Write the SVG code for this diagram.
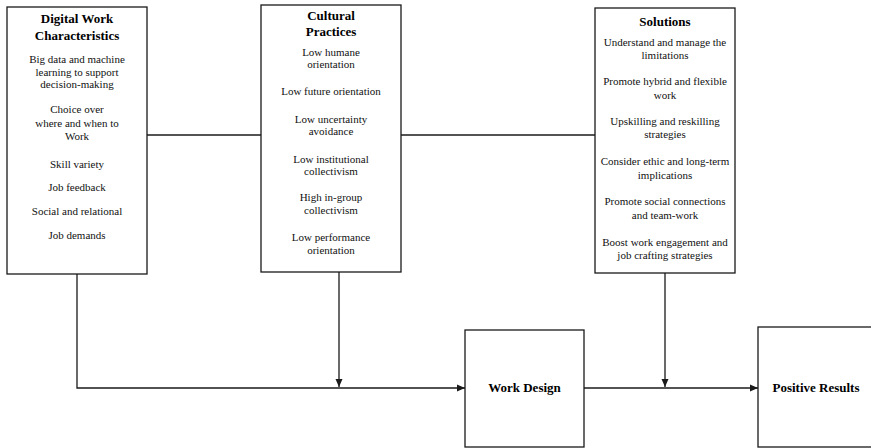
<svg xmlns="http://www.w3.org/2000/svg" width="871" height="448" viewBox="0 0 871 448">
  <style>
    .box { fill: #fff; stroke: #1a1a1a; stroke-width: 1.3; }
    .wire { fill: none; stroke: #1a1a1a; stroke-width: 1.3; }
    .title { font-family: 'Liberation Serif', 'DejaVu Serif', serif; font-weight: bold; font-size: 13px; fill: #000; text-anchor: middle; }
    .item { font-family: 'Liberation Serif', 'DejaVu Serif', serif; font-size: 11px; fill: #111; text-anchor: middle; }
  </style>
  <defs>
    <marker id="arrow" viewBox="0 0 8 8" refX="8" refY="4" markerWidth="8" markerHeight="8" markerUnits="userSpaceOnUse" orient="auto">
      <path d="M0,0.5 L8,4 L0,7.5 Z" fill="#1a1a1a"/>
    </marker>
  </defs>
  <rect width="871" height="448" fill="#fff"/>

  <!-- connectors -->
  <g id="connectors">
    <line class="wire" x1="147" y1="135" x2="261" y2="135"/>
    <line class="wire" x1="401" y1="135" x2="595" y2="135"/>
    <polyline class="wire" points="77,274 77,388 465,388" marker-end="url(#arrow)"/>
    <line class="wire" x1="339" y1="272" x2="339" y2="387" marker-end="url(#arrow)"/>
    <line class="wire" x1="665" y1="273" x2="665" y2="387" marker-end="url(#arrow)"/>
    <line class="wire" x1="584" y1="388" x2="758" y2="388" marker-end="url(#arrow)"/>
  </g>

  <!-- Digital Work Characteristics -->
  <g id="digital-work">
    <rect class="box" x="7" y="7" width="140" height="267"/>
    <text class="title" x="77" y="23">Digital Work</text>
    <text class="title" x="77" y="40">Characteristics</text>
    <text class="item" x="77" y="63">Big data and machine</text>
    <text class="item" x="77" y="76">learning to support</text>
    <text class="item" x="77" y="88">decision-making</text>
    <text class="item" x="77" y="113">Choice over</text>
    <text class="item" x="77" y="127">where and when to</text>
    <text class="item" x="77" y="140">Work</text>
    <text class="item" x="77" y="168">Skill variety</text>
    <text class="item" x="77" y="191">Job feedback</text>
    <text class="item" x="77" y="215">Social and relational</text>
    <text class="item" x="77" y="239">Job demands</text>
  </g>

  <!-- Cultural Practices -->
  <g id="cultural-practices">
    <rect class="box" x="261" y="5" width="140" height="267"/>
    <text class="title" x="331" y="20">Cultural</text>
    <text class="title" x="331" y="36">Practices</text>
    <text class="item" x="331" y="56">Low humane</text>
    <text class="item" x="331" y="68">orientation</text>
    <text class="item" x="331" y="95">Low future orientation</text>
    <text class="item" x="331" y="123">Low uncertainty</text>
    <text class="item" x="331" y="135">avoidance</text>
    <text class="item" x="331" y="163">Low institutional</text>
    <text class="item" x="331" y="175">collectivism</text>
    <text class="item" x="331" y="201">High in-group</text>
    <text class="item" x="331" y="214">collectivism</text>
    <text class="item" x="331" y="241">Low performance</text>
    <text class="item" x="331" y="254">orientation</text>
  </g>

  <!-- Solutions -->
  <g id="solutions">
    <rect class="box" x="595" y="8" width="140" height="265"/>
    <text class="title" x="665" y="26">Solutions</text>
    <text class="item" x="665" y="46">Understand and manage the</text>
    <text class="item" x="665" y="59">limitations</text>
    <text class="item" x="665" y="85">Promote hybrid and flexible</text>
    <text class="item" x="665" y="99">work</text>
    <text class="item" x="665" y="125">Upskilling and reskilling</text>
    <text class="item" x="665" y="138">strategies</text>
    <text class="item" x="665" y="165">Consider ethic and long-term</text>
    <text class="item" x="665" y="179">implications</text>
    <text class="item" x="665" y="205">Promote social connections</text>
    <text class="item" x="665" y="219">and team-work</text>
    <text class="item" x="665" y="246">Boost work engagement and</text>
    <text class="item" x="665" y="259">job crafting strategies</text>
  </g>

  <!-- Work Design -->
  <g id="work-design">
    <rect class="box" x="465" y="330" width="119" height="117"/>
    <text class="title" x="524.5" y="392">Work Design</text>
  </g>

  <!-- Positive Results -->
  <g id="positive-results">
    <rect class="box" x="758" y="327" width="116" height="120"/>
    <text class="title" x="816" y="392">Positive Results</text>
  </g>
</svg>
